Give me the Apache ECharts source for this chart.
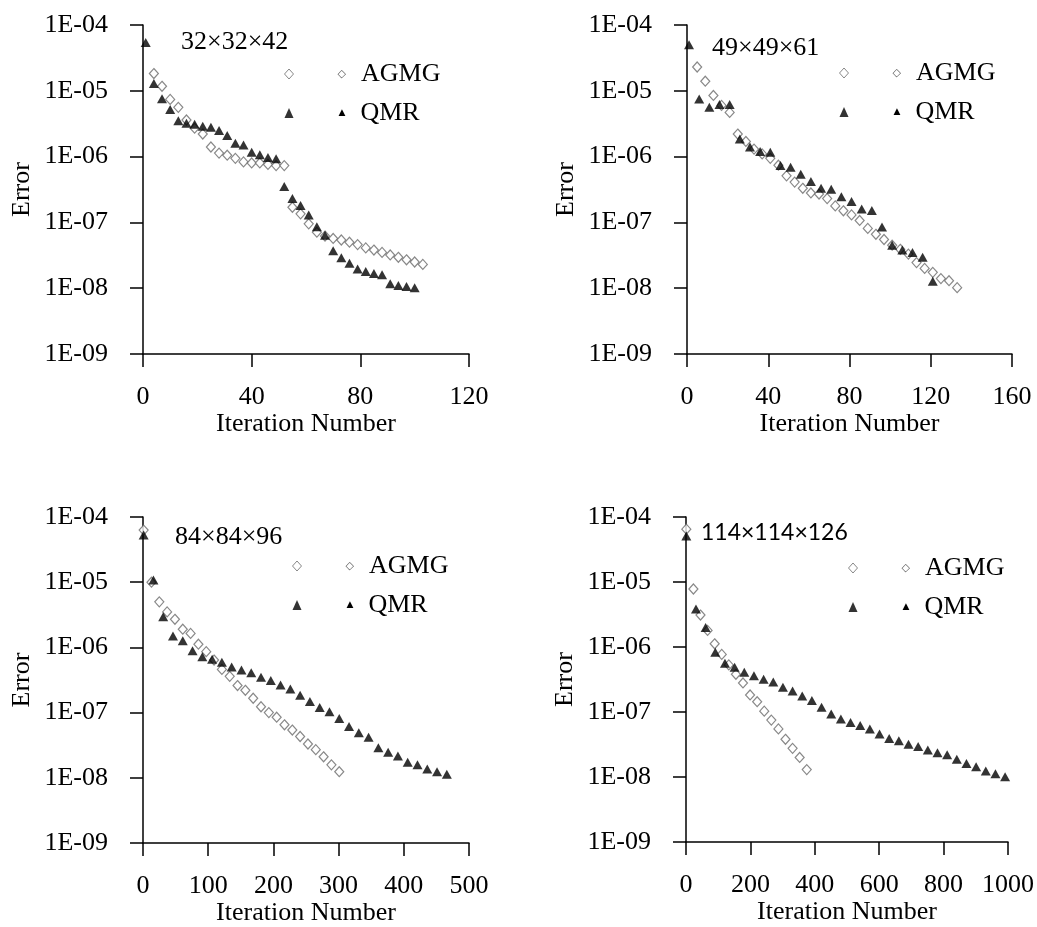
<!DOCTYPE html>
<html>
<head>
<meta charset="utf-8">
<title>Error vs Iteration Number</title>
<script src="https://cdn.jsdelivr.net/npm/echarts@6.0.0/dist/echarts.min.js"></script>
<style>
  html, body { margin: 0; padding: 0; background: #fff; }
  #main { width: 1037px; height: 927px; }
</style>
</head>
<body>
<div id="main"></div>
<script>
// 32x32x42
var agmg1X = [4, 7, 10, 13, 16, 19, 22, 25, 28, 31, 34, 37, 40, 43, 46, 49, 52, 55, 58, 61, 64, 67, 70, 73, 76, 79, 82, 85, 88, 91, 94, 97, 100, 103];
var agmg1Y = [1.83e-5, 1.17e-5, 7.4e-6, 5.6e-6, 3.6e-6, 2.7e-6, 2.2e-6, 1.4e-6, 1.13e-6, 1.05e-6, 9.4e-7, 8.3e-7, 8.0e-7, 8.0e-7, 7.6e-7, 7.3e-7, 7.3e-7, 1.7e-7, 1.35e-7, 9.5e-8, 7.1e-8, 6.2e-8, 5.7e-8, 5.4e-8, 5.0e-8, 4.6e-8, 4.1e-8, 3.8e-8, 3.5e-8, 3.2e-8, 2.95e-8, 2.7e-8, 2.5e-8, 2.3e-8];
var qmr1X = [1, 4, 7, 10, 13, 16, 19, 22, 25, 28, 31, 34, 37, 40, 43, 46, 49, 52, 55, 58, 61, 64, 67, 70, 73, 76, 79, 82, 85, 88, 91, 94, 97, 100];
var qmr1Y = [5.4e-5, 1.29e-5, 7.6e-6, 5.2e-6, 3.5e-6, 3.2e-6, 3.1e-6, 2.9e-6, 2.8e-6, 2.5e-6, 2.1e-6, 1.6e-6, 1.5e-6, 1.16e-6, 1.07e-6, 9.7e-7, 9.3e-7, 3.5e-7, 2.3e-7, 1.8e-7, 1.3e-7, 8.6e-8, 6.4e-8, 3.7e-8, 2.9e-8, 2.4e-8, 1.96e-8, 1.8e-8, 1.67e-8, 1.6e-8, 1.17e-8, 1.1e-8, 1.06e-8, 1.02e-8];

// 49x49x61
var agmg2X = [5, 9, 13, 17, 21, 25, 29, 33, 37, 41, 45, 49, 53, 57, 61, 65, 69, 73, 77, 81, 85, 89, 93, 97, 101, 105, 109, 113, 117, 121, 125, 129, 133];
var agmg2Y = [2.3e-5, 1.4e-5, 8.5e-6, 6.0e-6, 4.7e-6, 2.2e-6, 1.7e-6, 1.3e-6, 1.1e-6, 9.4e-7, 7.4e-7, 5.1e-7, 4.1e-7, 3.3e-7, 2.8e-7, 2.7e-7, 2.3e-7, 1.78e-7, 1.5e-7, 1.3e-7, 1.07e-7, 8.1e-8, 6.6e-8, 5.5e-8, 4.5e-8, 3.9e-8, 3.3e-8, 2.45e-8, 2.0e-8, 1.74e-8, 1.4e-8, 1.3e-8, 1.02e-8];
var qmr2X = [1, 6, 11, 16, 21, 26, 31, 36, 41, 46, 51, 56, 61, 66, 71, 76, 81, 86, 91, 96, 101, 106, 111, 116, 121];
var qmr2Y = [5.0e-5, 7.5e-6, 5.6e-6, 6.2e-6, 6.2e-6, 1.85e-6, 1.4e-6, 1.2e-6, 1.16e-6, 7.3e-7, 6.9e-7, 5.4e-7, 4.2e-7, 3.3e-7, 3.2e-7, 2.45e-7, 2.07e-7, 1.6e-7, 1.52e-7, 8.5e-8, 4.5e-8, 3.8e-8, 3.5e-8, 2.95e-8, 1.28e-8];

// 84x84x96
var agmg3X = [1, 13, 25, 37, 49, 61, 73, 85, 97, 109, 121, 133, 145, 157, 169, 181, 193, 205, 217, 229, 241, 253, 265, 277, 289, 301];
var agmg3Y = [6.3e-5, 1.0e-5, 5.0e-6, 3.5e-6, 2.7e-6, 1.9e-6, 1.64e-6, 1.12e-6, 8.6e-7, 6.4e-7, 4.6e-7, 3.6e-7, 2.6e-7, 2.2e-7, 1.66e-7, 1.23e-7, 1.0e-7, 8.5e-8, 6.5e-8, 5.4e-8, 4.3e-8, 3.3e-8, 2.7e-8, 2.1e-8, 1.58e-8, 1.24e-8];
var qmr3X = [1, 16, 31, 46, 61, 76, 91, 106, 121, 136, 151, 166, 181, 196, 211, 226, 241, 256, 271, 286, 301, 316, 331, 346, 361, 376, 391, 406, 421, 436, 451, 466];
var qmr3Y = [5.3e-5, 1.08e-5, 2.95e-6, 1.5e-6, 1.27e-6, 8.9e-7, 7.2e-7, 6.6e-7, 5.9e-7, 5.0e-7, 4.5e-7, 4.1e-7, 3.5e-7, 3.1e-7, 2.65e-7, 2.3e-7, 1.84e-7, 1.48e-7, 1.2e-7, 1.03e-7, 8.1e-8, 6.1e-8, 4.9e-8, 4.2e-8, 2.9e-8, 2.46e-8, 2.16e-8, 1.73e-8, 1.58e-8, 1.37e-8, 1.24e-8, 1.13e-8];

// 114x114x126
var agmg4X = [1, 23, 45, 67, 89, 111, 133, 155, 177, 199, 221, 243, 265, 287, 309, 331, 353, 375];
var agmg4Y = [6.5e-5, 7.8e-6, 3.1e-6, 1.8e-6, 1.12e-6, 7.7e-7, 5.3e-7, 3.8e-7, 2.8e-7, 1.83e-7, 1.44e-7, 1.03e-7, 7.5e-8, 5.5e-8, 3.8e-8, 2.76e-8, 2.0e-8, 1.3e-8];
var qmr4X = [1, 31, 61, 91, 121, 151, 181, 211, 241, 271, 301, 331, 361, 391, 421, 451, 481, 511, 541, 571, 601, 631, 661, 691, 721, 751, 781, 811, 841, 871, 901, 931, 961, 991];
var qmr4Y = [5.1e-5, 3.85e-6, 2.0e-6, 8.3e-7, 5.6e-7, 4.9e-7, 4.1e-7, 3.6e-7, 3.2e-7, 2.9e-7, 2.4e-7, 2.1e-7, 1.77e-7, 1.5e-7, 1.18e-7, 9.3e-8, 7.8e-8, 6.9e-8, 6.2e-8, 5.5e-8, 4.6e-8, 3.9e-8, 3.6e-8, 3.2e-8, 2.95e-8, 2.6e-8, 2.37e-8, 2.2e-8, 1.87e-8, 1.62e-8, 1.44e-8, 1.24e-8, 1.12e-8, 1.01e-8];

var meshNames = ['32×32×42', '49×49×61', '84×84×96', '114×114×126'];
var xMax = [120, 160, 500, 1000];
var xStep = [40, 40, 100, 200];
var yMin = 1e-9;
var yMax = 1e-4;

var agmgX = [agmg1X, agmg2X, agmg3X, agmg4X];
var agmgY = [agmg1Y, agmg2Y, agmg3Y, agmg4Y];
var qmrX = [qmr1X, qmr2X, qmr3X, qmr4X];
var qmrY = [qmr1Y, qmr2Y, qmr3Y, qmr4Y];

var serif = '"Liberation Serif", "Times New Roman", serif';
var FS = 26;

// plot boxes of the four panels
var boxes = [
    { left: 143, top: 25, width: 326, height: 329 },
    { left: 687, top: 25, width: 325, height: 329 },
    { left: 143, top: 517, width: 326, height: 326 },
    { left: 686, top: 517, width: 326, height: 325 }
];
var titlePos = [[181, 29], [712, 35], [175, 524], [701, 521]];
var legendPos = [[284, 61], [839, 60], [292, 553], [848, 555]];

function zip (xs, ys) {
    return xs.map(function (x, i) { return [x, ys[i]]; });
}

// 1E-04 style labels
function expLabel (v) {
    var e = Math.round(Math.log(v) / Math.LN10);
    var s = String(Math.abs(e));
    if (s.length < 2) s = '0' + s;
    return '1E' + (e < 0 ? '-' : '+') + s;
}

var axisLine = { lineStyle: { color: '#000', width: 1.5 } };
var axisTick = { length: 13, lineStyle: { color: '#000', width: 1.5 } };
var labelText = { fontFamily: serif, fontSize: FS, color: '#000' };
var agmgStyle = { color: '#fff', borderColor: '#6a6a6a', borderWidth: 1.2 };

var option = {
    backgroundColor: '#fff',
    animation: false,
    title: [],
    legend: [],
    grid: [],
    xAxis: [],
    yAxis: [],
    series: []
};

for (var i = 0; i < 4; i++) {
    option.grid.push(Object.assign({ containLabel: false }, boxes[i]));

    option.title.push({
        text: meshNames[i],
        left: titlePos[i][0],
        top: titlePos[i][1],
        padding: 0,
        textStyle: {
            fontFamily: i === 3 ? 'Lato, "Open Sans", sans-serif' : serif,
            fontSize: i === 3 ? 23 : FS,
            fontWeight: 'normal',
            color: '#000'
        }
    });

    option.xAxis.push({
        gridIndex: i,
        type: 'value',
        min: 0,
        max: xMax[i],
        interval: xStep[i],
        name: 'Iteration Number',
        nameLocation: 'middle',
        nameGap: 55,
        nameTextStyle: labelText,
        axisLine: axisLine,
        axisTick: axisTick,
        axisLabel: Object.assign({ margin: 30, formatter: function (v) { return String(v); } }, labelText),
        splitLine: { show: false }
    });

    option.yAxis.push({
        gridIndex: i,
        type: 'log',
        logBase: 10,
        min: yMin,
        max: yMax,
        name: 'Error',
        nameLocation: 'middle',
        nameGap: 108,
        nameRotate: 90,
        nameTextStyle: labelText,
        axisLine: axisLine,
        axisTick: axisTick,
        axisLabel: Object.assign({ margin: 35, formatter: expLabel }, labelText),
        splitLine: { show: false },
        minorTick: { show: false }
    });

    option.series.push({
        type: 'scatter',
        name: 'AGMG',
        xAxisIndex: i,
        yAxisIndex: i,
        data: zip(agmgX[i], agmgY[i]),
        symbol: 'diamond',
        symbolSize: [9, 10],
        itemStyle: agmgStyle,
        silent: true,
        z: 2
    });

    option.series.push({
        type: 'scatter',
        name: 'QMR',
        xAxisIndex: i,
        yAxisIndex: i,
        data: zip(qmrX[i], qmrY[i]),
        symbol: 'triangle',
        symbolSize: [10, 9],
        itemStyle: { color: '#000' },
        silent: true,
        z: 3
    });

    option.legend.push({
        orient: 'vertical',
        left: legendPos[i][0],
        top: legendPos[i][1],
        padding: 0,
        itemWidth: 9,
        itemHeight: 10,
        itemGap: 13,
        selectedMode: false,
        data: [
            { name: 'AGMG', icon: 'diamond', itemStyle: { color: '#fff', borderColor: '#6a6a6a', borderWidth: 1 } },
            { name: 'QMR', icon: 'triangle', itemStyle: { color: '#000', borderWidth: 0 } }
        ],
        formatter: function (name) {
            return name === 'AGMG' ? '{md|◇}{t|AGMG}' : '{mt|▲}{t|QMR}';
        },
        textStyle: {
            color: '#000',
            rich: {
                md: { padding: [0, 0, 0, 39], fontSize: 11, color: '#555', fontFamily: '"DejaVu Sans"' },
                mt: { padding: [0, 0, 0, 40], fontSize: 9, color: '#000', fontFamily: '"DejaVu Sans"' },
                t: { fontFamily: serif, fontSize: FS, lineHeight: 24, color: '#000', padding: [0, 0, 0, 15] }
            }
        }
    });
}

var myChart = echarts.init(document.getElementById('main'));
myChart.setOption(option);
</script>
</body>
</html>
